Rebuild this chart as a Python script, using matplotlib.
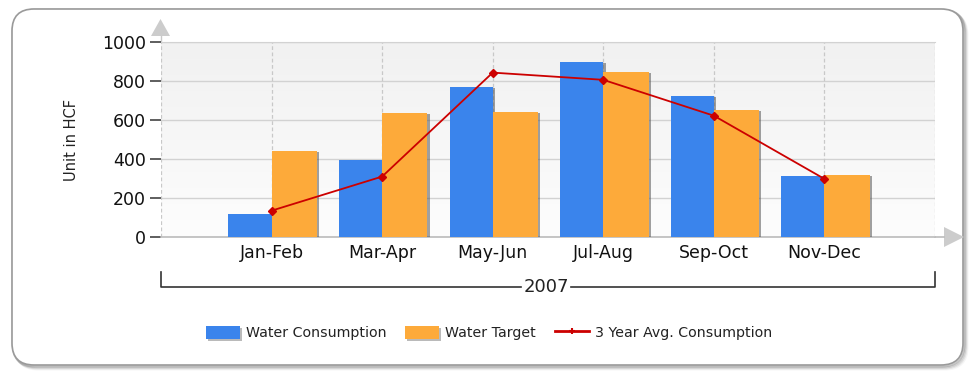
import numpy as np
import matplotlib
matplotlib.use("Agg")
import matplotlib.pyplot as plt
import matplotlib.patheffects as pe
from matplotlib.patches import FancyBboxPatch, Polygon, Patch
from matplotlib.lines import Line2D
from matplotlib.colors import LinearSegmentedColormap

# ---- data ----
periods = ["Jan-Feb", "Mar-Apr", "May-Jun", "Jul-Aug", "Sep-Oct", "Nov-Dec"]
consumption = [120, 395, 770, 900, 722, 312]
target = [440, 634, 643, 845, 650, 320]
avg_3yr = [135, 310, 843, 806, 622, 298]
year_label = "2007"
y_ticks = [0, 200, 400, 600, 800, 1000]

BLUE = "#3a84ec"
ORANGE = "#fdaa3a"
RED = "#cc0000"

W, H = 970, 375
fig = plt.figure(figsize=(W / 100, H / 100), dpi=100)
fig.patch.set_facecolor("white")

# ---- background panel (pixel coordinates) ----
bg = fig.add_axes([0, 0, 1, 1], zorder=0)
bg.set_xlim(0, W)
bg.set_ylim(H, 0)
bg.axis("off")

for k, a in enumerate([0.04, 0.07, 0.10, 0.15]):
    off = 4 - k
    bg.add_patch(FancyBboxPatch((12 + off, 9 + off), 951, 356,
                                boxstyle="round,pad=0,rounding_size=22",
                                fc="none", ec=(0, 0, 0, a), lw=2.2))
bg.add_patch(FancyBboxPatch((12, 9), 951, 356,
                            boxstyle="round,pad=0,rounding_size=22",
                            fc="white", ec="#9a9a9a", lw=1.2))

# axis arrows
bg.add_patch(Polygon([[151, 36], [170, 36], [160.5, 19]], closed=True,
                     fc="#cccccc", ec="none"))
bg.plot([161, 161], [36, 42], color="#c8c8c8", lw=1)
bg.add_patch(Polygon([[944, 227], [944, 247], [964, 237]], closed=True,
                     fc="#cccccc", ec="none"))
bg.plot([935, 944], [237, 237], color="#bbbbbb", lw=1.2)

# year bracket below the category labels
bg.plot([161, 161, 521], [272, 287, 287], color="#333333", lw=1.2)
bg.plot([571, 935, 935], [287, 287, 272], color="#333333", lw=1.2)
bg.text(546, 287, year_label, ha="center", va="center", fontsize=13,
        color="#222222", family="DejaVu Sans")

# y-axis title
bg.text(72, 140, "Unit in HCF", rotation=90, ha="center", va="center",
        fontsize=10.5, color="#222222", family="DejaVu Sans")

# ---- main plot ----
ax = fig.add_axes([161 / W, 1 - 237 / H, 774 / W, 195 / H], zorder=1)
x = np.arange(1, len(periods) + 1)

grad = LinearSegmentedColormap.from_list("bgfade", ["#fdfdfd", "#f1f1f1"])
ax.imshow(np.linspace(0, 1, 256).reshape(-1, 1), cmap=grad, origin="lower",
          extent=(0, 7, 0, 1000), aspect="auto", zorder=0)

shadow = [pe.SimplePatchShadow(offset=(1.6, -0.8), shadow_rgbFace="#555555",
                               alpha=0.55), pe.Normal()]
ax.bar(x - 0.39, consumption, width=0.39, align="edge", color=BLUE,
       zorder=3, path_effects=shadow)
ax.bar(x, target, width=0.41, align="edge", color=ORANGE,
       zorder=3, path_effects=shadow)
ax.plot(x, avg_3yr, color=RED, lw=1.3, marker="D", ms=4.5, mec=RED, mfc=RED,
        zorder=4)

ax.set_xlim(0, 7)
ax.set_ylim(0, 1000)

for yv in y_ticks[1:]:
    ax.axhline(yv, color="#d2d2d2", lw=1, zorder=1)
for xv in range(0, 8):
    ax.axvline(xv, color="#c8c8c8", lw=0.9, ls=(0, (3, 2)), zorder=1)

ax.set_yticks(y_ticks)
ax.set_yticklabels([str(v) for v in y_ticks], fontsize=12.5, color="#111111")
ax.tick_params(axis="y", length=8, width=1.1, color="#333333", pad=3)
ax.set_xticks(x)
ax.set_xticklabels(periods, fontsize=12.5, color="#111111")
ax.tick_params(axis="x", length=0, pad=5)

for s in ["left", "right"]:
    ax.spines[s].set_visible(False)
ax.spines["top"].set_color("#d2d2d2")
ax.spines["bottom"].set_color("#bbbbbb")
ax.spines["bottom"].set_linewidth(1.2)

# ---- legend ----
swatch_shadow = [pe.SimplePatchShadow(offset=(1.5, -1.5),
                                      shadow_rgbFace="#777777", alpha=0.5),
                 pe.Normal()]
handles = [
    Patch(facecolor=BLUE, edgecolor="none", path_effects=swatch_shadow),
    Patch(facecolor=ORANGE, edgecolor="none", path_effects=swatch_shadow),
    Line2D([0], [0], color=RED, lw=2, marker="+", ms=5, mew=1.5),
]
labels = ["Water Consumption", "Water Target", "3 Year Avg. Consumption"]
fig.legend(handles, labels, loc="center", bbox_to_anchor=(0.504, 0.112),
           ncol=3, frameon=False, prop={"family": "DejaVu Sans", "size": 10.2},
           handlelength=2.4, handleheight=1.0, handletextpad=0.45,
           columnspacing=1.3, labelcolor="#222222")

fig.savefig("out.png", dpi=100)
